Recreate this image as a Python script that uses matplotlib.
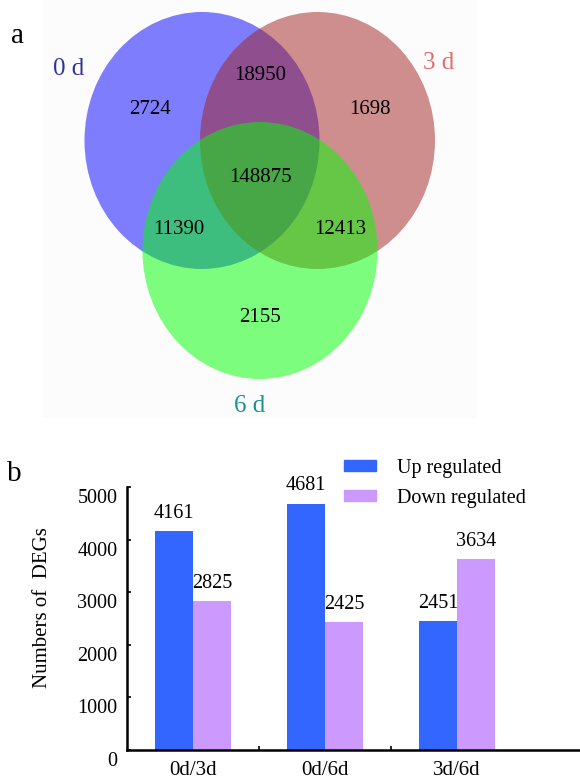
import matplotlib
matplotlib.use('Agg')
import matplotlib.pyplot as plt
import matplotlib.transforms as mtransforms
from matplotlib.patches import Ellipse, Rectangle, Patch
import numpy as np

plt.rcParams['font.family'] = ['Liberation Serif', 'DejaVu Serif']

# venn data (panel a)
set_names = ['0 d', '3 d', '6 d']
set_colors = ['#0000ff', '#a12121', '#00ff00']
set_label_colors = ['#333399', '#e86a6a', '#1a9090']
region_names = ['0d only', '0d&3d', '3d only', 'all', '0d&6d', '3d&6d', '6d only']
region_counts = [2724, 18950, 1698, 148875, 11390, 12413, 2155]

# bar data (panel b)
comparisons = ['0d/3d', '0d/6d', '3d/6d']
up_regulated = [4161, 4681, 2451]
down_regulated = [2825, 2425, 3634]

W, H = 580, 782
fig = plt.figure(figsize=(W / 100, H / 100), dpi=100)

# ---- panel a: venn drawn in pixel coordinates
ax_v = fig.add_axes([0, 0, 1, 1])
ax_v.set_xlim(0, W)
ax_v.set_ylim(H, 0)
ax_v.axis('off')
ax_v.add_patch(Rectangle((42, 0), 435, 418, facecolor='#fcfcfc', edgecolor='none'))

centers = [(202, 140.5), (317.5, 140.5), (260, 250.5)]
for (cx, cy), col in zip(centers, set_colors):
    ax_v.add_patch(Ellipse((cx, cy), 235, 257, facecolor=col, alpha=0.5, edgecolor='none'))

label_pos = [(69, 69), (439, 63), (250, 406)]
for name, (x, y), col in zip(set_names, label_pos, set_label_colors):
    ax_v.text(x, y, name, color=col, fontsize=18, ha='center', va='center')

region_pos = [(150, 109), (260, 76), (370, 109), (260, 178), (179, 230), (340, 230), (260, 317)]
for n, (x, y) in zip(region_counts, region_pos):
    ax_v.text(x, y, str(n), fontsize=15, ha='center', va='center')

ax_v.text(17, 36, 'a', fontsize=21, ha='center', va='center')
ax_v.text(14, 474, 'b', fontsize=21, ha='center', va='center')

# ---- panel b: bar chart
ax = fig.add_axes([127 / W, 1 - 750 / H, (W - 127) / W, 263 / H])
x = np.arange(len(comparisons)) + 0.5
bw = 0.29
b1 = ax.bar(x - bw / 2, up_regulated, bw, color='#3366ff', label='Up regulated')
b2 = ax.bar(x + bw / 2, down_regulated, bw, color='#cc99ff', label='Down regulated')
for bars in (b1, b2):
    for r in bars:
        ax.annotate(str(int(r.get_height())), (r.get_x() + r.get_width() / 2, r.get_height()),
                    xytext=(0, 6), textcoords='offset points', ha='center', va='bottom', fontsize=14.5)

ax.set_xlim(0, (W - 127) / 132)
ax.set_ylim(0, 5000)
ax.set_yticks(range(0, 5001, 1000))
ax.set_xticks(x)
ax.set_xticklabels(comparisons, fontsize=15)
ax.set_xticks([1, 2], minor=True)
ax.tick_params(axis='x', which='major', length=0, pad=8)
ax.tick_params(axis='x', which='minor', direction='in', length=3, width=1.2)
ax.tick_params(axis='y', direction='in', length=3, width=1.2, labelsize=14.5, pad=7)
offset = mtransforms.ScaledTranslation(0, -0.09, fig.dpi_scale_trans)
for lab in ax.get_yticklabels():
    lab.set_transform(lab.get_transform() + offset)
for s in ['top', 'right']:
    ax.spines[s].set_visible(False)
for s in ['left', 'bottom']:
    ax.spines[s].set_linewidth(1.8)
ax.set_ylabel('Numbers of  DEGs', fontsize=15)
ax.yaxis.set_label_coords(-0.166, (750 - 608) / 263)

fig.legend(handles=[Patch(color='#3366ff'), Patch(color='#cc99ff')],
           labels=['Up regulated', 'Down regulated'],
           loc='upper left', bbox_to_anchor=(344 / W, 1 - 459 / H),
           frameon=False, fontsize=14.5, borderpad=0, borderaxespad=0,
           handlelength=1.6, handleheight=0.46, handletextpad=1.05, labelspacing=0.55)

fig.savefig('out.png', dpi=100)
